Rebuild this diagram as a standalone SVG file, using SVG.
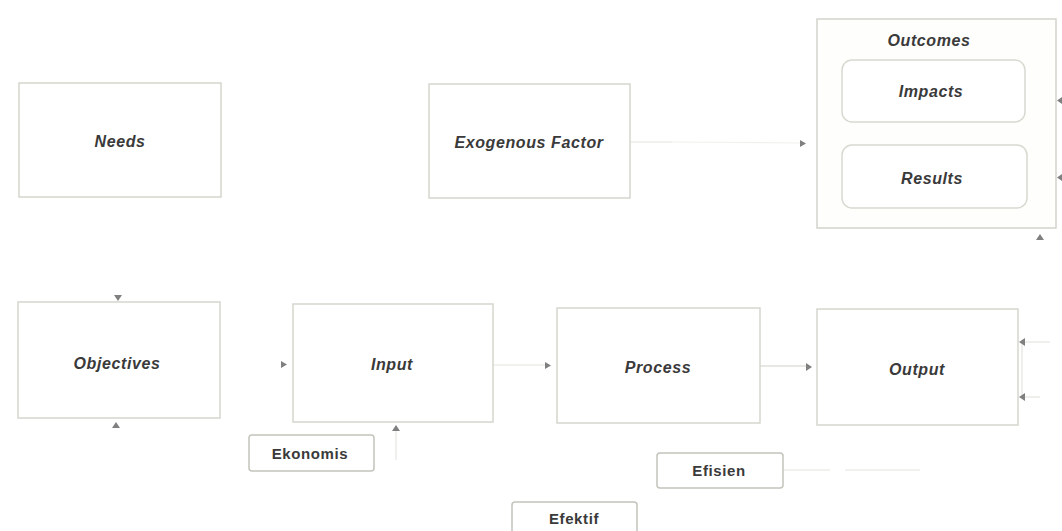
<svg xmlns="http://www.w3.org/2000/svg" width="1062" height="531" viewBox="0 0 1062 531">
<style>
.box{fill:#ffffff;stroke:#d6d6cf;stroke-width:1.5}
.rbox{fill:#ffffff;stroke:#d9d9d2;stroke-width:1.5}
.tag{fill:#ffffff;stroke:#c4c4bc;stroke-width:1.5}
.t{font-family:"Liberation Sans",Arial,sans-serif;font-size:16px;font-weight:bold;font-style:italic;fill:#3a3a3a;text-anchor:middle;letter-spacing:0.6px}
.n{font-family:"Liberation Sans",Arial,sans-serif;font-size:15px;font-weight:bold;fill:#3a3a3a;text-anchor:middle;letter-spacing:0.6px}
.c{fill:none;stroke:#e4e4de;stroke-width:1.2}
.cf{fill:none;stroke:#f1f1ec;stroke-width:1.2}
.cv{fill:none;stroke:#cfcfc8;stroke-width:1.2}
.ah{fill:#808080}
</style>
<rect width="1062" height="531" fill="#ffffff"/>
<g id="connectors">
<line class="c" x1="630" y1="142" x2="672" y2="142"/>
<line class="cf" x1="672" y1="142" x2="800" y2="143"/>
<line class="c" x1="493" y1="365" x2="546" y2="365"/>
<line class="cv" x1="760" y1="366" x2="807" y2="366"/>
<line class="c" x1="1022" y1="342" x2="1022" y2="397"/>
<line class="c" x1="1022" y1="342" x2="1050" y2="342"/>
<line class="c" x1="1022" y1="397" x2="1040" y2="397"/>
<line class="c" x1="783" y1="470" x2="830" y2="470"/>
<line class="c" x1="845" y1="470" x2="920" y2="470"/>
<line class="c" x1="396" y1="426" x2="396" y2="460"/>
<line class="c" x1="933" y1="125" x2="933" y2="145"/>
<path class="ah" d="M114,295 L122,295 L118,301 Z"/>
<path class="ah" d="M112,428 L120,428 L116,422 Z"/>
<path class="ah" d="M281,361 L281,368 L287,364.5 Z"/>
<path class="ah" d="M392,431 L400,431 L396,425 Z"/>
<path class="ah" d="M545,362 L545,369 L551,365.5 Z"/>
<path class="ah" d="M806,363 L806,371 L812,367 Z"/>
<path class="ah" d="M1025,338 L1025,346 L1019,342 Z"/>
<path class="ah" d="M1025,393 L1025,401 L1019,397 Z"/>
<path class="ah" d="M800,140 L800,147 L806,143.5 Z"/>
<path class="ah" d="M929,130 L937,130 L933,124 Z"/>
<path class="ah" d="M1062,97 L1062,104 L1057,100.5 Z"/>
<path class="ah" d="M1062,174 L1062,181 L1057,177.5 Z"/>
<path class="ah" d="M1036,240 L1044,240 L1040,234 Z"/>
</g>
<g id="node-needs">
<rect class="box" x="19" y="83" width="202" height="114"/>
<text class="t" x="120" y="147">Needs</text>
</g>
<g id="node-exogenous">
<rect class="box" x="429" y="84" width="201" height="114"/>
<text class="t" x="529" y="148">Exogenous Factor</text>
</g>
<g id="node-outcomes">
<rect x="817" y="19" width="239" height="209" fill="#fefefc" stroke="#d3d3cc" stroke-width="1.5"/>
<text class="t" x="929" y="46">Outcomes</text>
</g>
<g id="node-impacts">
<rect class="rbox" x="842" y="60" width="183" height="62" rx="10"/>
<text class="t" x="931" y="97">Impacts</text>
</g>
<g id="node-results">
<rect class="rbox" x="842" y="145" width="185" height="63" rx="10"/>
<text class="t" x="932" y="184">Results</text>
</g>
<g id="node-objectives">
<rect class="box" x="18" y="302" width="202" height="116"/>
<text class="t" x="117" y="369">Objectives</text>
</g>
<g id="node-input">
<rect class="box" x="293" y="304" width="200" height="118"/>
<text class="t" x="392" y="370">Input</text>
</g>
<g id="node-process">
<rect class="box" x="557" y="308" width="203" height="115"/>
<text class="t" x="658" y="373">Process</text>
</g>
<g id="node-output">
<rect class="box" x="817" y="309" width="201" height="116"/>
<text class="t" x="917" y="375">Output</text>
</g>
<g id="node-ekonomis">
<rect class="tag" x="249" y="435" width="125" height="36" rx="3"/>
<text class="n" x="310" y="459">Ekonomis</text>
</g>
<g id="node-efisien">
<rect class="tag" x="657" y="453" width="126" height="35" rx="3"/>
<text class="n" x="719" y="476">Efisien</text>
</g>
<g id="node-efektif">
<rect class="tag" x="512" y="502" width="125" height="40" rx="3"/>
<text class="n" x="574" y="524">Efektif</text>
</g>
</svg>
